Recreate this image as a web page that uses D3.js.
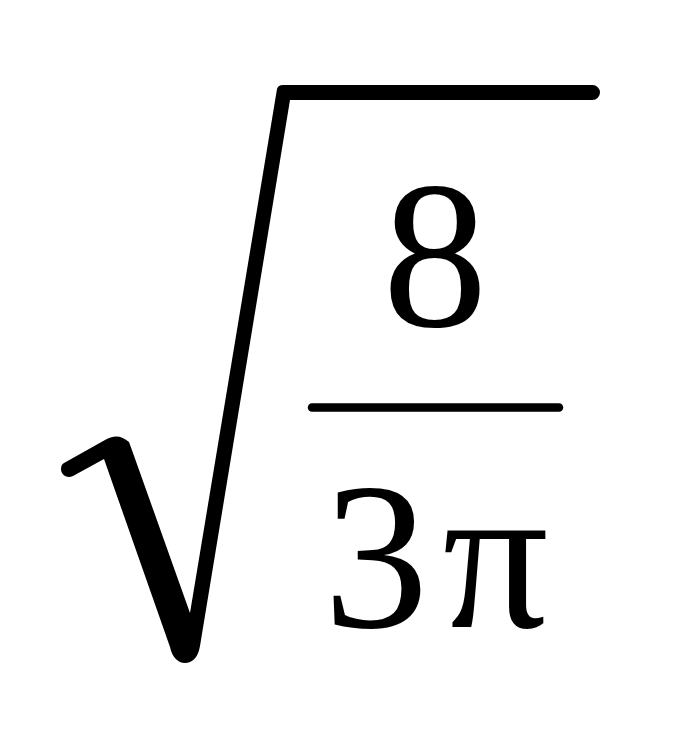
<!DOCTYPE html>
<html>
<head>
<meta charset="utf-8">
<script src="https://cdn.jsdelivr.net/npm/d3@7"></script>
<style>
  html, body { margin: 0; padding: 0; background: #fff; }
  text { font-family: "Liberation Serif", "DejaVu Serif", serif; }
</style>
</head>
<body>
<script>
// the formula: sqrt( 8 / (3 pi) )
let numerator = ["8"];
let denominator = ["3", "\u03C0"];

let w = 677;
let h = 739;
let fontSize = 210;
let centerX = 435;

var svg = d3.select("body")
  .append("svg")
  .attr("width", w)
  .attr("height", h);

svg.append("rect")
  .attr("width", w)
  .attr("height", h)
  .attr("fill", "#fff");

// radical sign, drawn as one filled outline
var rad = d3.path();
rad.moveTo(64, 463);
rad.lineTo(105, 440);
rad.quadraticCurveTo(118, 432, 129, 442);
rad.lineTo(133, 453);
rad.lineTo(190, 613);
rad.lineTo(277, 89);
rad.quadraticCurveTo(278, 85, 283, 85);
rad.lineTo(592, 85);
rad.arcTo(600, 85, 600, 92.5, 7.5);
rad.arcTo(600, 100, 592, 100, 7.5);
rad.lineTo(290, 100);
rad.lineTo(200, 646);
rad.bezierCurveTo(198, 658, 192, 663, 185, 663);
rad.bezierCurveTo(178, 663, 172, 657, 170, 647);
rad.lineTo(104, 459);
rad.lineTo(73, 476);
rad.bezierCurveTo(66, 479, 61, 474, 61, 469);
rad.bezierCurveTo(61, 466, 62, 464, 64, 463);
rad.closePath();

svg.append("path")
  .attr("d", rad.toString())
  .attr("fill", "#000");

// fraction bar
svg.append("line")
  .attr("x1", 312)
  .attr("x2", 559)
  .attr("y1", 407.5)
  .attr("y2", 407.5)
  .attr("stroke", "#000")
  .attr("stroke-width", 8.5)
  .attr("stroke-linecap", "round");

// numerator
svg.selectAll("text.num")
  .data([numerator])
  .enter()
  .append("text")
  .attr("class", "num")
  .attr("x", centerX)
  .attr("y", 326)
  .attr("text-anchor", "middle")
  .attr("font-size", fontSize)
  .text(function(d) { return d.join(""); });

// denominator
var den = svg.append("text")
  .attr("class", "den")
  .attr("x", centerX + 1)
  .attr("y", 627)
  .attr("text-anchor", "middle")
  .attr("font-size", fontSize);

den.selectAll("tspan")
  .data(denominator)
  .enter()
  .append("tspan")
  .attr("dx", function(d, i) { return i == 0 ? 0 : 14; })
  .text(function(d) { return d; });
</script>
</body>
</html>
